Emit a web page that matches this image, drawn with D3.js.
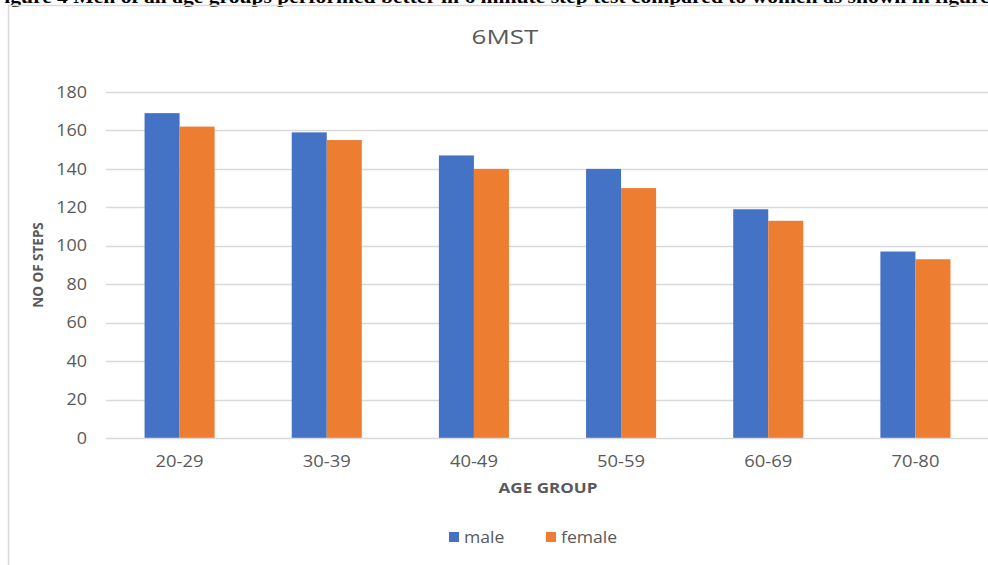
<!DOCTYPE html>
<html>
<head>
<meta charset="utf-8">
<script src="https://cdn.jsdelivr.net/npm/d3@7"></script>
<style>
  html, body { margin: 0; padding: 0; background: #fff; overflow: hidden; }
  svg { display: block; }
</style>
</head>
<body>
<svg id="chart" width="988" height="565"></svg>
<script>
// Six-minute step test: mean number of steps by age group and sex
const ageGroups = ["20-29", "30-39", "40-49", "50-59", "60-69", "70-80"];
const maleSteps = [169, 159, 147, 140, 119, 97];
const femaleSteps = [162, 155, 140, 130, 113, 93];
const yTicks = [0, 20, 40, 60, 80, 100, 120, 140, 160, 180];
const seriesNames = ["male", "female"];

const series = [
  { name: seriesNames[0], values: maleSteps, color: "#4472c4" },
  { name: seriesNames[1], values: femaleSteps, color: "#ed7d31" }
];

const svg = d3.select("#chart");
const W = 988, H = 565;
const font = "'Open Sans', 'Segoe UI', sans-serif";
const grey = "#595959";

// Text that is drawn a little wider than the font's natural width
function wideText(parent, x, y, sx, txt) {
  return parent.append("text")
    .attr("transform", `translate(${x},${y}) scale(${sx},1)`)
    .text(txt);
}

// Caption line above the chart frame
svg.append("text")
  .attr("x", -9).attr("y", 3)
  .attr("font-family", "'Liberation Serif', 'Times New Roman', serif")
  .attr("font-weight", "bold")
  .attr("font-size", 19)
  .attr("fill", "#000")
  .attr("textLength", 1015)
  .attr("lengthAdjust", "spacingAndGlyphs")
  .text("Figure 4  Men of all age groups performed better in 6 minute step test compared to women as shown in figure 4");

// Chart frame
svg.append("rect")
  .attr("x", 8.5).attr("y", 5.5)
  .attr("width", W + 10).attr("height", H + 10)
  .attr("fill", "none")
  .attr("stroke", "#d9d9d9")
  .attr("stroke-width", 1.5);

const plot = { left: 106, right: 989, top: 92, bottom: 438 };

const x0 = d3.scaleBand()
  .domain(ageGroups)
  .range([plot.left, plot.right])
  .paddingInner(0.524)
  .paddingOuter(0.262);

const x1 = d3.scaleBand()
  .domain(seriesNames)
  .range([0, x0.bandwidth()]);

const y = d3.scaleLinear()
  .domain([0, 180])
  .range([plot.bottom, plot.top]);

// Horizontal gridlines
svg.append("g")
  .selectAll("line")
  .data(yTicks.filter(d => d > 0))
  .join("line")
  .attr("x1", plot.left).attr("x2", plot.right)
  .attr("y1", d => Math.round(y(d)) + 0.5)
  .attr("y2", d => Math.round(y(d)) + 0.5)
  .attr("stroke", "#d9d9d9")
  .attr("stroke-width", 1.5);

// Y axis labels
const yAxis = svg.append("g")
  .attr("transform", `translate(${plot.left},0)`)
  .call(d3.axisLeft(y).tickValues(yTicks).tickSize(0).tickPadding(0));
yAxis.select(".domain").remove();
yAxis.selectAll(".tick text")
  .attr("x", null)
  .attr("transform", "translate(-19,0) scale(1.12,1)")
  .attr("font-family", font)
  .attr("font-size", 16)
  .attr("fill", grey);

// Bars
const groups = svg.append("g")
  .selectAll("g")
  .data(ageGroups)
  .join("g")
  .attr("transform", d => `translate(${x0(d)},0)`);

groups.selectAll("rect")
  .data((d, i) => series.map(s => ({ name: s.name, value: s.values[i], color: s.color })))
  .join("rect")
  .attr("x", d => x1(d.name))
  .attr("y", d => y(d.value))
  .attr("width", x1.bandwidth())
  .attr("height", d => y(0) - y(d.value))
  .attr("fill", d => d.color);

// Baseline
svg.append("line")
  .attr("x1", plot.left).attr("x2", plot.right)
  .attr("y1", plot.bottom + 0.5).attr("y2", plot.bottom + 0.5)
  .attr("stroke", "#d9d9d9")
  .attr("stroke-width", 1.5);

// X axis labels
const xAxis = svg.append("g")
  .attr("transform", `translate(0,${plot.bottom})`)
  .call(d3.axisBottom(x0).tickSize(0).tickPadding(0));
xAxis.select(".domain").remove();
xAxis.selectAll(".tick text")
  .attr("y", null).attr("dy", null)
  .attr("transform", "translate(0,29) scale(1.15,1)")
  .attr("font-family", font)
  .attr("font-size", 16)
  .attr("fill", grey);

// Title
wideText(svg, 505, 44, 1.3, "6MST")
  .attr("text-anchor", "middle")
  .attr("font-family", font)
  .attr("font-size", 20)
  .attr("fill", grey);

// Axis titles
wideText(svg, 548, 493, 1.22, "AGE GROUP")
  .attr("text-anchor", "middle")
  .attr("font-family", font)
  .attr("font-weight", "bold")
  .attr("font-size", 14)
  .attr("fill", grey);

svg.append("text")
  .attr("transform", "translate(43,265) rotate(-90)")
  .attr("text-anchor", "middle")
  .attr("font-family", font)
  .attr("font-weight", "bold")
  .attr("font-size", 13.5)
  .attr("fill", grey)
  .text("NO OF STEPS");

// Legend
const legendX = [449, 546];
const legend = svg.append("g")
  .selectAll("g")
  .data(series)
  .join("g")
  .attr("transform", (d, i) => `translate(${legendX[i]},532)`);
legend.append("rect")
  .attr("width", 10).attr("height", 10)
  .attr("fill", d => d.color);
legend.append("text")
  .attr("transform", "translate(15,10.5) scale(1.1,1)")
  .attr("font-family", font)
  .attr("font-size", 16)
  .attr("fill", grey)
  .text(d => d.name);
</script>
</body>
</html>
